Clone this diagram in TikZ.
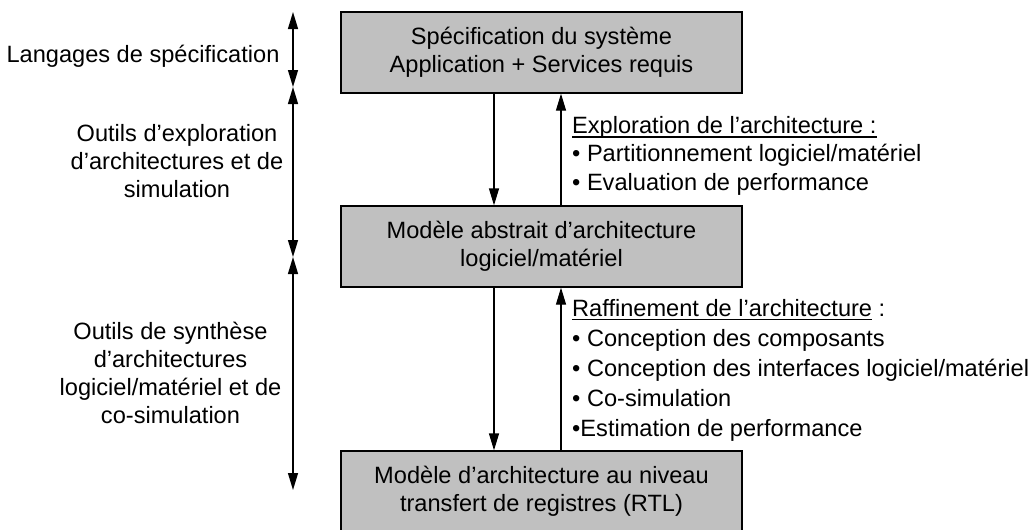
\documentclass[tikz,border=0pt]{standalone}
\usepackage{fontspec}
\setmainfont{Liberation Sans}
\usetikzlibrary{arrows.meta}
\definecolor{boxgray}{HTML}{C0C0C0}
\newcommand\myul[1]{\setbox0=\hbox{#1}\rlap{\rule[-4pt]{\wd0}{1.4pt}}\box0}
\begin{document}
\begin{tikzpicture}[x=1pt,y=-1pt,
  every node/.style={font=\fontsize{23.6}{28.3}\selectfont, inner sep=0pt},
  stage/.style={draw=black, line width=1.3pt, fill=boxgray, minimum width=401pt, minimum height=81pt, align=center},
  conn/.style={line width=1.3pt, -{Triangle[length=17pt,width=10pt]}},
  span/.style={line width=1.3pt, {Triangle[length=17pt,width=10pt]}-{Triangle[length=17pt,width=10pt]}},
  lbl/.style={align=center},
  notes/.style={align=left, anchor=north west}]
\useasboundingbox (0,0) rectangle (1031,530);

\node[stage] (b1) at (541.5,52.5) {Spécification du système\\Application + Services requis};
\node[stage] (b2) at (541.5,246.5) {Modèle abstrait d’architecture\\logiciel/matériel};
\node[stage] (b3) at (541.5,491.5) {Modèle d’architecture au niveau\\transfert de registres (RTL)};

\coordinate (dn) at (494,0);
\coordinate (up) at (561,0);
\draw[conn] (b1.south -| dn) -- (b2.north -| dn);
\draw[conn] (b2.north -| up) -- (b1.south -| up);
\draw[conn] (b2.south -| dn) -- (b3.north -| dn);
\draw[conn] (b3.north -| up) -- (b2.south -| up);

\node[notes] (expl) at (572,116.3) {\myul{Exploration de l’architecture :}\\• Partitionnement logiciel/matériel\\• Evaluation de performance};
\node[notes, font=\fontsize{23.6}{30}\selectfont] (raff) at (572,299) {\myul{Raffinement de l’architecture}\ :\\• Conception des composants\\• Conception des interfaces logiciel/matériel\\• Co-simulation\\•Estimation de performance};

\coordinate (t0) at (293,12);
\coordinate (t1) at (293,87);
\coordinate (t2) at (293,257);
\coordinate (t3) at (293,490);
\draw[span] (t0) -- (t1);
\draw[span] (t1) -- (t2);
\draw[span] (t2) -- (t3);

\node[anchor=base] (lang) at (143,62) {Langages de spécification};
\node[lbl, anchor=north] (explo) at (177,124) {Outils d’exploration\\d’architectures et de\\simulation};
\node[lbl, anchor=north] (synth) at (170.5,321.5) {Outils de synthèse\\d’architectures\\logiciel/matériel et de\\co-simulation};
\end{tikzpicture}
\end{document}
